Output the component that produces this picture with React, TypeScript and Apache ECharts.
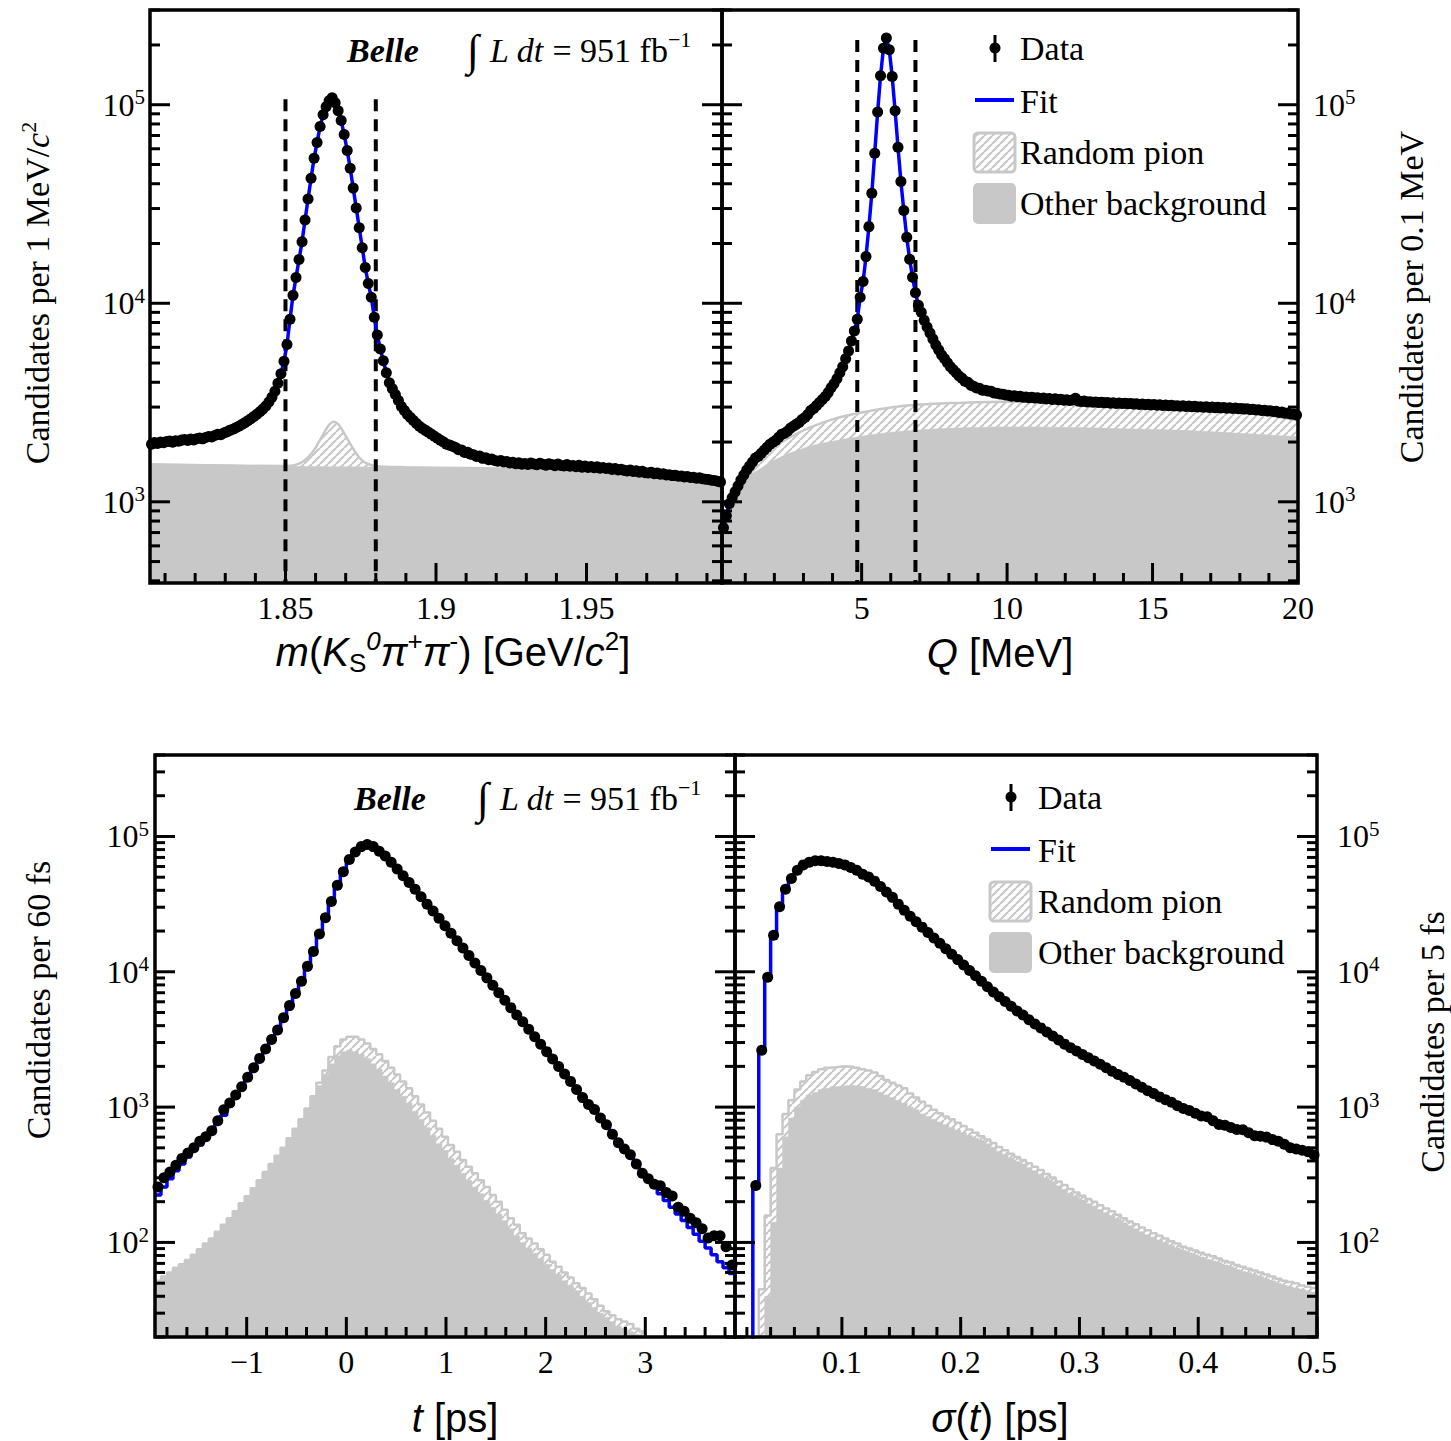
import React, { useEffect, useRef } from 'react';
import * as echarts from 'echarts';

const SERIF = "'Liberation Serif', 'Times New Roman', serif";
const SANS = "'Liberation Sans', Arial, Helvetica, sans-serif";
const GREY = '#c8c8c8';
const BLUE = '#0000ff';

// ---------------- Panel A: m(KS pi+ pi-) ----------------
const M_RANGE = [1.805, 1.995];
const M_BIN = 0.001;
const M_DATA = [
  1950, 1990, 1965, 2000, 1985, 2010, 2025, 1995, 2030, 2020,
  2045, 2060, 2035, 2070, 2050, 2080, 2095, 2075, 2110, 2135,
  2120, 2160, 2190, 2175, 2220, 2250, 2290, 2320, 2360, 2400,
  2450, 2500, 2560, 2620, 2690, 2760, 2840, 2930, 3040, 3180,
  3360, 3600, 3950, 4420, 5100, 6200, 8300, 10960, 13490, 16600,
  20420, 26300, 33500, 42660, 53700, 64570, 77620, 89130, 97720, 104700,
  108400, 102300, 93330, 83180, 70790, 58880, 47860, 38020, 30200, 23990,
  19050, 15140, 12590, 10720, 8510, 6920, 5890, 5130, 4470, 3980,
  3715, 3470, 3240, 3020, 2880, 2750, 2660, 2570, 2480, 2400,
  2340, 2290, 2240, 2190, 2140, 2090, 2040, 2000, 1950, 1930,
  1905, 1875, 1830, 1825, 1770, 1775, 1735, 1725, 1690, 1700,
  1655, 1665, 1630, 1645, 1615, 1600, 1615, 1585, 1595, 1570,
  1580, 1555, 1575, 1545, 1560, 1540, 1570, 1550, 1535, 1565,
  1545, 1530, 1555, 1540, 1520, 1550, 1525, 1515, 1540, 1510,
  1525, 1500, 1530, 1495, 1515, 1490, 1505, 1485, 1500, 1475,
  1490, 1470, 1480, 1455, 1470, 1445, 1460, 1440, 1430, 1445,
  1420, 1435, 1410, 1425, 1400, 1395, 1410, 1385, 1395, 1375,
  1385, 1365, 1370, 1355, 1360, 1345, 1350, 1335, 1340, 1325,
  1330, 1315, 1320, 1305, 1300, 1295, 1285, 1280, 1270, 1260,
];
const M_OTHER_X = [1.805, 1.83, 1.85, 1.87, 1.89, 1.91, 1.93, 1.95, 1.97, 1.995];
const M_OTHER_Y = [1540, 1525, 1510, 1500, 1490, 1475, 1455, 1420, 1360, 1255];
const M_TOTAL_X = [1.805, 1.85, 1.853, 1.856, 1.859, 1.861, 1.863, 1.8645, 1.866, 1.8675, 1.869, 1.871, 1.873, 1.875, 1.877, 1.88, 1.89, 1.91, 1.93, 1.95, 1.97, 1.995];
const M_TOTAL_Y = [1545, 1515, 1530, 1600, 1780, 1990, 2250, 2440, 2530, 2460, 2280, 2020, 1800, 1640, 1560, 1512, 1494, 1479, 1459, 1424, 1364, 1259];
const M_WINDOW = [1.85, 1.88];
const M_WINDOW_TOP = 106700;
const M_LABELS = [1.85, 1.9, 1.95];

// ---------------- Panel B: Q ----------------
const Q_RANGE = [0.2, 20];
const Q_BIN = 0.1;
const Q_DATA = [
  741, 851, 977, 1047, 1122, 1202, 1288, 1365, 1445, 1514,
  1585, 1660, 1698, 1758, 1820, 1884, 1950, 1995, 2042, 2113,
  2188, 2213, 2265, 2344, 2399, 2455, 2512, 2600, 2661, 2754,
  2884, 2951, 3055, 3162, 3273, 3388, 3548, 3758, 3936, 4169,
  4467, 4786, 5248, 5754, 6457, 7244, 8318, 10715, 12882, 17179,
  24322, 35810, 57016, 91833, 139959, 192752, 216770, 189229, 138676, 93325,
  61094, 41020, 29309, 21528, 16672, 13521, 11298, 9772, 9016, 8222,
  7586, 7079, 6607, 6166, 5821, 5495, 5248, 5012, 4786, 4624,
  4470, 4300, 4190, 4050, 4000, 3870, 3820, 3740, 3730, 3650,
  3650, 3610, 3600, 3530, 3520, 3490, 3480, 3450, 3440, 3400,
  3420, 3380, 3400, 3360, 3375, 3340, 3365, 3330, 3345, 3310,
  3330, 3295, 3310, 3280, 3300, 3265, 3285, 3250, 3270, 3235,
  3255, 3320, 3215, 3200, 3215, 3180, 3195, 3170, 3185, 3160,
  3175, 3150, 3165, 3140, 3155, 3130, 3145, 3125, 3140, 3115,
  3130, 3105, 3120, 3095, 3110, 3085, 3100, 3075, 3090, 3065,
  3080, 3055, 3070, 3045, 3060, 3040, 3050, 3030, 3045, 3020,
  3035, 3010, 3025, 3005, 3015, 2995, 3010, 2985, 3000, 2980,
  2990, 2970, 2985, 2960, 2975, 2955, 2965, 2945, 2955, 2930,
  2940, 2915, 2925, 2900, 2910, 2885, 2895, 2865, 2875, 2850,
  2855, 2820, 2830, 2795, 2800, 2770, 2765, 2735,
];
const Q_BKG_X = [0.2, 0.3, 0.5, 0.75, 1, 1.5, 2, 3, 4, 5, 6, 7, 8, 10, 12, 14, 16, 18, 20];
const Q_OTHER_Y = [660, 770, 930, 1096, 1303, 1462, 1622, 1862, 2018, 2138, 2239, 2301, 2344, 2382, 2371, 2333, 2291, 2213, 2128];
const Q_TOTAL_Y = [690, 810, 990, 1230, 1445, 1718, 1905, 2291, 2600, 2818, 2985, 3090, 3141, 3192, 3162, 3119, 3020, 2851, 2570];
const Q_WINDOW = [4.85, 6.85];
const Q_WINDOW_TOP = 212000;
const Q_LABELS = [5, 10, 15, 20];

// ---------------- Panel C: t ----------------
const T_RANGE = [-1.92, 3.9];
const T_BIN = 0.06;
const T_DATA = [
  257, 300, 331, 372, 417, 457, 501, 560, 603, 668,
  794, 955, 1072, 1230, 1413, 1660, 1950, 2291, 2692, 3162,
  3715, 4571, 5623, 6918, 8511, 10965, 14125, 19055, 25119, 33113,
  43652, 54954, 67608, 76736, 84140, 87096, 84140, 77625, 71614, 64565,
  57544, 51286, 45709, 40738, 35892, 31623, 28184, 24831, 21878, 19275,
  16982, 14962, 13183, 11614, 10233, 9016, 7943, 6998, 6166, 5433,
  4786, 4266, 3758, 3311, 2917, 2570, 2265, 1995, 1758, 1549,
  1349, 1175, 1047, 960, 832, 740, 631, 545, 490, 445,
  380, 325, 295, 269, 262, 234, 220, 182, 170, 151,
  140, 126, 108, 112, 112, 93, 68,
];
const T_FIT = [
  224, 257, 295, 339, 380, 427, 479, 525, 589, 661,
  759, 871, 1023, 1175, 1380, 1660, 1950, 2291, 2692, 3162,
  3715, 4571, 5623, 6918, 8511, 10965, 14125, 19055, 25119, 33113,
  43652, 54954, 67608, 76736, 84140, 87096, 84140, 77625, 71614, 64565,
  57544, 51286, 45709, 40738, 35892, 31623, 28184, 24831, 21878, 19275,
  16982, 14962, 13183, 11614, 10233, 9016, 7943, 6998, 6166, 5433,
  4786, 4266, 3758, 3311, 2917, 2570, 2265, 1995, 1758, 1549,
  1349, 1175, 1047, 944, 813, 716, 631, 556, 490, 432,
  380, 335, 295, 260, 229, 204, 182, 162, 145, 129,
  115, 102, 91, 81, 72, 65, 59,
];
const T_TOTAL = [
  52, 56, 60, 65, 69, 74, 81, 89, 98, 107,
  120, 135, 151, 170, 195, 219, 251, 288, 331, 380,
  437, 501, 589, 692, 813, 977, 1202, 1514, 1862, 2344,
  2818, 3162, 3311, 3311, 3162, 2951, 2692, 2455, 2188, 1950,
  1738, 1549, 1380, 1202, 1047, 912, 794, 692, 603, 525,
  468, 407, 363, 324, 288, 257, 224, 200, 174, 151,
  135, 117, 107, 98, 89, 81, 72, 66, 60, 55,
  50, 46, 42, 38, 34, 31, 29, 27, 26, 25,
  23, 22, 1, 1, 1, 1, 1, 1, 1, 1,
  1, 1, 1, 1, 1, 1, 1,
];
const T_OTHER = [
  52, 56, 60, 65, 69, 74, 81, 89, 98, 107,
  120, 135, 151, 170, 195, 219, 251, 288, 331, 380,
  437, 501, 589, 692, 813, 977, 1202, 1445, 1738, 2089,
  2399, 2570, 2630, 2570, 2455, 2291, 2089, 1905, 1698, 1514,
  1349, 1202, 1072, 933, 813, 708, 617, 537, 479, 417,
  372, 324, 288, 257, 229, 204, 182, 162, 145, 126,
  112, 100, 91, 83, 76, 69, 63, 58, 52, 48,
  44, 40, 36, 33, 30, 28, 26, 24, 23, 22,
  21, 20, 1, 1, 1, 1, 1, 1, 1, 1,
  1, 1, 1, 1, 1, 1, 1,
];
const T_LABELS = [-1, 0, 1, 2, 3];

// ---------------- Panel D: sigma(t) ----------------
const S_RANGE = [0.01, 0.5];
const S_BIN = 0.005;
const S_DATA = [
  null, null, null, 263, 2630, 9120, 18620, 30200, 40740, 48980,
  56230, 61660, 64570, 66070, 66070, 65310, 64570, 63100, 61660, 58880,
  56230, 52480, 50120, 46770, 42660, 38900, 35480, 31620, 28510, 25700,
  23440, 21380, 19500, 17780, 16220, 14790, 13490, 12300, 11220, 10230,
  9330, 8510, 7760, 7080, 6530, 6030, 5560, 5130, 4790, 4420,
  4120, 3850, 3590, 3350, 3130, 2920, 2750, 2600, 2450, 2320,
  2190, 2070, 1950, 1840, 1740, 1660, 1570, 1480, 1400, 1320,
  1260, 1190, 1135, 1085, 1023, 977, 944, 902, 861, 850,
  794, 745, 733, 708, 684, 680, 646, 615, 610, 600,
  575, 560, 531, 500, 490, 479, 468, 442,
];
const S_FIT = [
  1, 1, 1, 263, 2630, 9120, 18620, 30200, 40740, 48980,
  56230, 61660, 64570, 66070, 66070, 65310, 64570, 63100, 61660, 58880,
  56230, 52480, 50120, 46770, 42660, 38900, 35480, 31620, 28510, 25700,
  23440, 21380, 19500, 17780, 16220, 14790, 13490, 12300, 11220, 10230,
  9330, 8510, 7760, 7080, 6530, 6030, 5560, 5130, 4790, 4420,
  4120, 3850, 3590, 3350, 3130, 2920, 2750, 2600, 2450, 2320,
  2190, 2070, 1950, 1840, 1740, 1660, 1570, 1480, 1400, 1320,
  1260, 1190, 1135, 1085, 1023, 977, 944, 902, 861, 832,
  794, 767, 733, 708, 684, 661, 646, 631, 610, 589,
  575, 550, 531, 507, 490, 479, 468, 442,
];
const S_TOTAL = [
  1, 1, 1, 1, 45, 158, 355, 631, 891, 1122,
  1349, 1549, 1718, 1820, 1905, 1950, 1972, 1995, 1995, 1986,
  1950, 1905, 1862, 1799, 1698, 1585, 1514, 1445, 1380, 1259,
  1175, 1096, 1023, 955, 902, 851, 813, 767, 724, 684,
  646, 610, 575, 543, 507, 479, 452, 427, 407, 385,
  363, 343, 320, 302, 282, 266, 248, 234, 221, 209,
  200, 188, 178, 170, 160, 151, 143, 136, 129, 123,
  117, 112, 107, 102, 98, 93, 90, 87, 84, 81,
  79, 76, 73, 71, 68, 66, 64, 62, 60, 58,
  56, 54, 52, 51, 50, 48, 47, 46,
];
const S_OTHER = [
  1, 1, 1, 1, 1, 40, 141, 355, 603, 832,
  1000, 1122, 1230, 1288, 1349, 1380, 1413, 1429, 1445, 1445,
  1429, 1413, 1380, 1349, 1288, 1230, 1175, 1122, 1072, 1000,
  955, 891, 851, 813, 776, 741, 708, 676, 646, 617,
  589, 568, 535, 505, 472, 446, 420, 397, 379, 358,
  338, 319, 298, 281, 262, 247, 231, 218, 206, 194,
  186, 175, 166, 158, 149, 140, 133, 126, 120, 114,
  109, 104, 100, 95, 91, 87, 84, 81, 78, 75,
  73, 71, 68, 66, 63, 61, 60, 58, 56, 54,
  52, 50, 48, 47, 46, 45, 44, 43,
];
const S_LABELS = [0.1, 0.2, 0.3, 0.4, 0.5];

const TOP_Y = [390, 300000];
const BOTTOM_Y = [20, 400000];
const TOP_Y_LABELS = [1000, 10000, 100000];
const BOTTOM_Y_LABELS = [100, 1000, 10000, 100000];

// layout
const GRIDS = [
  { left: 150, top: 10, width: 572, height: 573 },
  { left: 722, top: 10, width: 576, height: 573 },
  { left: 155, top: 755, width: 580, height: 582 },
  { left: 735, top: 755, width: 582, height: 582 },
];

function centers(lo: number, w: number, vals: (number | null)[]) {
  const out: number[][] = [];
  vals.forEach((v, i) => { if (v != null) out.push([lo + (i + 0.5) * w, v]); });
  return out;
}
function edges(lo: number, w: number, vals: number[]) {
  const pts = vals.map((v, i) => [lo + i * w, v]);
  pts.push([lo + vals.length * w, vals[vals.length - 1]]);
  return pts;
}
function pairs(xs: number[], ys: number[]) { return xs.map((x, i) => [x, ys[i]]); }

function tickData(xr: number[], yr: number[], minorStep: number, majors: number[]) {
  const out: number[][] = [];
  const start = Math.ceil(xr[0] / minorStep - 1e-6);
  for (let i = start; i * minorStep <= xr[1] + 1e-9; i++) {
    const v = i * minorStep;
    const isMajor = majors.some((m) => Math.abs(m - v) < minorStep * 1e-3);
    out.push([v, yr[0], 0, isMajor ? 20 : 10]);
  }
  const d0 = Math.floor(Math.log10(yr[0]));
  const d1 = Math.ceil(Math.log10(yr[1]));
  for (let d = d0; d <= d1; d++) {
    for (let m = 1; m <= 9; m++) {
      const v = m * Math.pow(10, d);
      if (v >= yr[0] && v <= yr[1]) out.push([xr[0], v, 1, m === 1 ? 20 : 10]);
    }
  }
  return out;
}

function tickSeries(idx: number, xr: number[], yr: number[], minorStep: number, majors: number[]) {
  return {
    type: 'custom', xAxisIndex: idx, yAxisIndex: idx, z: 10, silent: true, clip: false,
    data: tickData(xr, yr, minorStep, majors),
    renderItem: (params: any, api: any) => {
      const kind = api.value(2);
      const len = api.value(3);
      const p = api.coord([api.value(0), api.value(1)]);
      const style = { stroke: '#000', lineWidth: 3 };
      if (kind === 0) {
        return { type: 'line', shape: { x1: p[0], y1: p[1], x2: p[0], y2: p[1] - len }, style };
      }
      const q = api.coord([xr[1], api.value(1)]);
      return {
        type: 'group',
        children: [
          { type: 'line', shape: { x1: p[0], y1: p[1], x2: p[0] + len, y2: p[1] }, style },
          { type: 'line', shape: { x1: q[0], y1: q[1], x2: q[0] - len, y2: q[1] }, style },
        ],
      };
    },
  };
}

function makeHatch() {
  const s = 8;
  const c = document.createElement('canvas');
  c.width = s; c.height = s;
  const ctx = c.getContext('2d')!;
  ctx.fillStyle = '#ffffff';
  ctx.fillRect(0, 0, s, s);
  ctx.strokeStyle = GREY;
  ctx.lineWidth = 2.2;
  for (const o of [-s, 0, s]) {
    ctx.beginPath(); ctx.moveTo(o, s); ctx.lineTo(o + s, 0); ctx.stroke();
  }
  return c;
}

export default function App() {
  const ref = useRef<HTMLDivElement>(null);
  useEffect(() => {
    if (!ref.current) return;
    const chart = echarts.init(ref.current, undefined, { renderer: 'svg' });
    const hatch = { image: makeHatch(), repeat: 'repeat' };

    const xLabel = (labels: number[], fmt?: (v: number) => string) => ({
      show: true, customValues: labels, margin: 9, color: '#000', fontFamily: SERIF, fontSize: 32,
      formatter: fmt || ((v: number) => String(v)),
    });
    const yLabel = (labels: number[], show: boolean, margin: number) => ({
      show, customValues: labels, margin, color: '#000',
      formatter: (v: number) => `{b|10}{s|${Math.round(Math.log10(v))}}`,
      rich: {
        b: { fontFamily: SERIF, fontSize: 32, lineHeight: 36, color: '#000' },
        s: { fontFamily: SERIF, fontSize: 21, lineHeight: 18, verticalAlign: 'top', color: '#000' },
      },
    });
    const ranges = [M_RANGE, Q_RANGE, T_RANGE, S_RANGE];
    const xLabels = [
      xLabel(M_LABELS), xLabel(Q_LABELS),
      xLabel(T_LABELS, (v) => (v < 0 ? '\u2212' + Math.abs(v) : String(v))), xLabel(S_LABELS),
    ];
    const xAxis = ranges.map((r, i) => ({
      type: 'value', gridIndex: i, min: r[0], max: r[1],
      axisLine: { show: false }, axisTick: { show: false }, splitLine: { show: false },
      axisLabel: xLabels[i],
    }));
    const yAxis = [
      { gridIndex: 0, min: TOP_Y[0], max: TOP_Y[1], position: 'left', axisLabel: yLabel(TOP_Y_LABELS, true, 5) },
      { gridIndex: 1, min: TOP_Y[0], max: TOP_Y[1], position: 'right', axisLabel: yLabel(TOP_Y_LABELS, true, 15) },
      { gridIndex: 2, min: BOTTOM_Y[0], max: BOTTOM_Y[1], position: 'left', axisLabel: yLabel(BOTTOM_Y_LABELS, true, 6) },
      { gridIndex: 3, min: BOTTOM_Y[0], max: BOTTOM_Y[1], position: 'right', axisLabel: yLabel(BOTTOM_Y_LABELS, true, 20) },
    ].map((a) => ({
      ...a, type: 'log', logBase: 10,
      axisLine: { show: false }, axisTick: { show: false }, splitLine: { show: false }, minorTick: { show: false },
    }));

    const totalStyle = (idx: number, data: number[][], step: boolean) => ({
      type: 'line', xAxisIndex: idx, yAxisIndex: idx, data, symbol: 'none', z: 1,
      smooth: step ? false : 0.4, step: step ? 'end' : false,
      lineStyle: { color: GREY, width: 2.5 }, areaStyle: { color: hatch, opacity: 1 }, silent: true,
    });
    const otherStyle = (idx: number, data: number[][], step: boolean) => ({
      type: 'line', xAxisIndex: idx, yAxisIndex: idx, data, symbol: 'none', z: 2,
      smooth: step ? false : 0.4, step: step ? 'end' : false,
      lineStyle: { color: GREY, width: 0.5 }, areaStyle: { color: GREY, opacity: 1 }, silent: true,
    });
    const fitStyle = (idx: number, data: number[][], step: boolean) => ({
      type: 'line', xAxisIndex: idx, yAxisIndex: idx, data, symbol: 'none', z: 4,
      step: step ? 'end' : false, lineStyle: { color: BLUE, width: 3.5 }, silent: true,
    });
    const dataStyle = (idx: number, data: number[][]) => ({
      type: 'scatter', xAxisIndex: idx, yAxisIndex: idx, data, symbol: 'circle', symbolSize: 11, z: 5,
      itemStyle: { color: '#000', opacity: 1 }, silent: true,
    });
    const dashStyle = (idx: number, x: number, top: number, bottom: number) => ({
      type: 'line', xAxisIndex: idx, yAxisIndex: idx, data: [[x, top], [x, bottom]], symbol: 'none', z: 3,
      lineStyle: { color: '#000', width: 4, type: [12, 8] }, silent: true,
    });

    const series: any[] = [
      // panel A
      totalStyle(0, pairs(M_TOTAL_X, M_TOTAL_Y), false),
      otherStyle(0, pairs(M_OTHER_X, M_OTHER_Y), false),
      dashStyle(0, M_WINDOW[0], M_WINDOW_TOP, TOP_Y[0]),
      dashStyle(0, M_WINDOW[1], M_WINDOW_TOP, TOP_Y[0]),
      fitStyle(0, centers(M_RANGE[0], M_BIN, M_DATA), false),
      dataStyle(0, centers(M_RANGE[0], M_BIN, M_DATA)),
      tickSeries(0, M_RANGE, TOP_Y, 0.01, M_LABELS),
      // panel B
      totalStyle(1, pairs(Q_BKG_X, Q_TOTAL_Y), false),
      otherStyle(1, pairs(Q_BKG_X, Q_OTHER_Y), false),
      dashStyle(1, Q_WINDOW[0], Q_WINDOW_TOP, TOP_Y[0]),
      dashStyle(1, Q_WINDOW[1], Q_WINDOW_TOP, TOP_Y[0]),
      fitStyle(1, centers(Q_RANGE[0], Q_BIN, Q_DATA), false),
      dataStyle(1, centers(Q_RANGE[0], Q_BIN, Q_DATA)),
      tickSeries(1, Q_RANGE, TOP_Y, 1, Q_LABELS),
      // panel C
      totalStyle(2, edges(T_RANGE[0], T_BIN, T_TOTAL), true),
      otherStyle(2, edges(T_RANGE[0], T_BIN, T_OTHER), true),
      fitStyle(2, edges(T_RANGE[0], T_BIN, T_FIT), true),
      dataStyle(2, centers(T_RANGE[0], T_BIN, T_DATA)),
      tickSeries(2, T_RANGE, BOTTOM_Y, 0.2, T_LABELS),
      // panel D
      totalStyle(3, edges(S_RANGE[0], S_BIN, S_TOTAL), true),
      otherStyle(3, edges(S_RANGE[0], S_BIN, S_OTHER), true),
      fitStyle(3, edges(S_RANGE[0], S_BIN, S_FIT), true),
      dataStyle(3, centers(S_RANGE[0], S_BIN, S_DATA)),
      tickSeries(3, S_RANGE, BOTTOM_Y, 0.02, S_LABELS),
    ];

    const serifRich = (size: number, lh: number) => ({
      r: { fontFamily: SERIF, fontSize: size, lineHeight: lh, fill: '#000' },
      i: { fontFamily: SERIF, fontSize: size, lineHeight: lh, fill: '#000', fontStyle: 'italic' },
      s: { fontFamily: SERIF, fontSize: Math.round(size * 0.65), lineHeight: Math.round(size * 0.65), fill: '#000', verticalAlign: 'top' },
      int: { fontFamily: SERIF, fontSize: Math.round(size * 1.3), lineHeight: lh, fill: '#000' },
      bi: { fontFamily: SERIF, fontSize: size, lineHeight: lh, fill: '#000', fontStyle: 'italic', fontWeight: 'bold' },
    });
    const sansRich = (size: number) => ({
      r: { fontFamily: SANS, fontSize: size, lineHeight: size + 8, fill: '#000' },
      i: { fontFamily: SANS, fontSize: size, lineHeight: size + 8, fill: '#000', fontStyle: 'italic' },
      sub: { fontFamily: SANS, fontSize: 26, lineHeight: 26, fill: '#000', verticalAlign: 'bottom' },
      sup: { fontFamily: SANS, fontSize: 26, lineHeight: 26, fill: '#000', verticalAlign: 'top' },
      supi: { fontFamily: SANS, fontSize: 26, lineHeight: 26, fill: '#000', verticalAlign: 'top', fontStyle: 'italic' },
    });
    const rtext = (x: number, y: number, text: string, rich: any, opts: any = {}) => ({
      type: 'text', x, y, z: 100, rotation: opts.rotation || 0,
      style: { text, rich, align: opts.align || 'center', verticalAlign: 'middle', fill: '#000' },
    });

    const legend = (cx: number, cy: number, tx: number) => [
      { type: 'line', z: 100, shape: { x1: cx, y1: cy - 13, x2: cx, y2: cy + 14 }, style: { stroke: '#000', lineWidth: 3 } },
      { type: 'circle', z: 100, shape: { cx, cy, r: 5.5 }, style: { fill: '#000' } },
      rtext(tx, cy, '{r|Data}', serifRich(34, 40), { align: 'left' }),
      { type: 'line', z: 100, shape: { x1: cx - 20, y1: cy + 52, x2: cx + 19, y2: cy + 52 }, style: { stroke: BLUE, lineWidth: 4 } },
      rtext(tx, cy + 53, '{r|Fit}', serifRich(34, 40), { align: 'left' }),
      { type: 'rect', z: 100, shape: { x: cx - 21, y: cy + 85, width: 41, height: 39, r: 4 }, style: { fill: hatch, stroke: GREY, lineWidth: 3 } },
      rtext(tx, cy + 104, '{r|Random pion}', serifRich(34, 40), { align: 'left' }),
      { type: 'rect', z: 100, shape: { x: cx - 21, y: cy + 136, width: 41, height: 39, r: 4 }, style: { fill: GREY, stroke: GREY, lineWidth: 2 } },
      rtext(tx, cy + 155, '{r|Other background}', serifRich(34, 40), { align: 'left' }),
    ];

    const frames = GRIDS.map((g) => ({
      type: 'rect', z: 90, shape: { x: g.left, y: g.top, width: g.width, height: g.height },
      style: { fill: 'none', stroke: '#000', lineWidth: 3.5 },
    }));

    const lumi = '{int|\u222B }{i|L dt }{r|= 951 fb}{s|\u22121}';

    const graphic: any[] = [
      ...frames,
      ...legend(995, 48, 1020),
      ...legend(1011, 797, 1038),
      rtext(347, 50, '{bi|Belle}', serifRich(34, 40), { align: 'left' }),
      rtext(467, 50, lumi, serifRich(34, 44), { align: 'left' }),
      rtext(354, 798, '{bi|Belle}', serifRich(34, 40), { align: 'left' }),
      rtext(477, 798, lumi, serifRich(34, 44), { align: 'left' }),
      rtext(37, 293, '{r|Candidates per 1 MeV/}{i|c}{s|2}', serifRich(34, 40), { rotation: Math.PI / 2 }),
      rtext(1411, 297, '{r|Candidates per 0.1 MeV}', serifRich(34, 40), { rotation: Math.PI / 2 }),
      rtext(38, 1000, '{r|Candidates per 60 fs}', serifRich(34, 40), { rotation: Math.PI / 2 }),
      rtext(1432, 1042, '{r|Candidates per 5 fs}', serifRich(34, 40), { rotation: Math.PI / 2 }),
      rtext(453, 652, '{i|m}{r|(}{i|K}{sub|S}{supi|0}{i|\u03C0}{sup|+}{i|\u03C0}{sup|-}{r|) [GeV/}{i|c}{sup|2}{r|]}', sansRich(40)),
      rtext(1000, 653, '{i|Q}{r| [MeV]}', sansRich(40)),
      rtext(455, 1418, '{i|t}{r| [ps]}', sansRich(40)),
      rtext(1000, 1418, '{i|\u03C3}{r|(}{i|t}{r|) [ps]}', sansRich(40)),
    ];

    chart.setOption({
      animation: false,
      backgroundColor: '#ffffff',
      textStyle: { fontFamily: SERIF },
      grid: GRIDS.map((g) => ({ ...g, show: false, containLabel: false, outerBoundsMode: 'none' })),
      xAxis,
      yAxis,
      series,
      graphic,
    });
    return () => chart.dispose();
  }, []);
  return <div ref={ref} style={{ position: 'absolute', left: 0, top: 0, width: 1451, height: 1441, background: '#fff' }} />;
}
